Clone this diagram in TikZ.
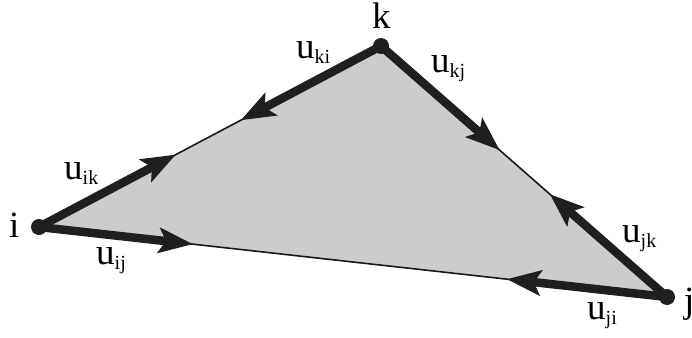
\documentclass[tikz,border=0pt]{standalone}
\usepackage{fontspec}
\setmainfont{Liberation Serif}
\usetikzlibrary{arrows.meta,calc}
\newcommand\ulab[1]{u\raisebox{-0.14em}{\fontsize{20}{20}\selectfont #1}}
\begin{document}
\begin{tikzpicture}[x=1pt,y=-1pt,
  half/.style={line width=8.5pt,-{Stealth[length=34pt,width=25pt,inset=7pt]},color=black!88},
  vdot/.style={circle,fill=black!88,inner sep=0pt,minimum size=16pt},
  lab/.style={anchor=base west,inner sep=0pt,font=\fontsize{37}{37}\selectfont}]
\useasboundingbox (0,0) rectangle (692,337);
\coordinate (i) at (39,227);
\coordinate (k) at (381,46);
\coordinate (j) at (667,297);
\fill[black!20] (i) -- (k) -- (j) -- cycle;
\draw[line width=1.6pt,black!90] (i) -- (k) -- (j) -- cycle;
\draw[half] (i) -- ($(i)!0.40!(k)$);
\draw[half] (k) -- ($(k)!0.41!(i)$);
\draw[half] (k) -- ($(k)!0.415!(j)$);
\draw[half] (j) -- ($(j)!0.41!(k)$);
\draw[half] (i) -- ($(i)!0.245!(j)$);
\draw[half] (j) -- ($(j)!0.255!(i)$);
\node[vdot] (di) at (i) {};
\node[vdot] (dk) at (k) {};
\node[vdot] (dj) at (j) {};
\node[lab] (li) at (9,237) {i};
\node[lab] (lk) at (372,29) {k};
\node[lab] (lj) at (684,312) {j};
\node[lab] (lik) at (64,179) {\ulab{ik}};
\node[lab] (lki) at (296,58) {\ulab{ki}};
\node[lab] (lkj) at (431,72) {\ulab{kj}};
\node[lab] (ljk) at (622,242) {\ulab{jk}};
\node[lab] (lij) at (96,264) {\ulab{ij}};
\node[lab] (lji) at (587,319) {\ulab{ji}};
\end{tikzpicture}
\end{document}
